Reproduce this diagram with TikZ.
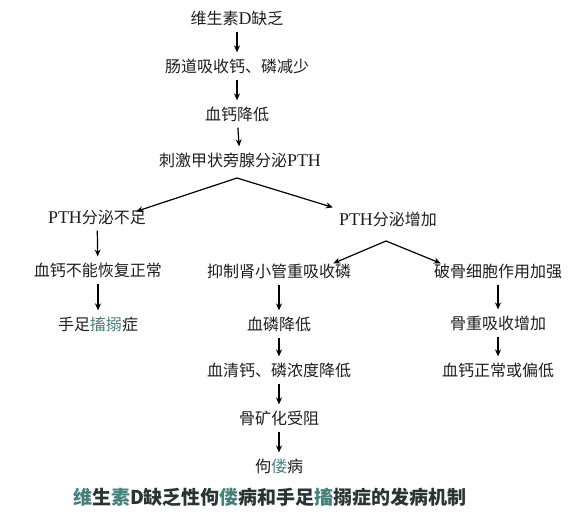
\documentclass[tikz,border=0pt]{standalone}
\usepackage{fontspec}
\setmainfont{Noto Sans CJK SC}
\newfontfamily\lat[Scale=1.12]{Liberation Serif}
\usetikzlibrary{arrows.meta}
\definecolor{txt}{HTML}{1E1E1E}
\definecolor{tealc}{HTML}{46807C}
\definecolor{capc}{HTML}{2A3433}
\tikzset{
  lbl/.style={font=\fontsize{16}{19}\selectfont, text=txt, inner sep=2pt, anchor=center},
  arr/.style={draw=black, line width=1.2pt, -{Stealth[length=7pt,width=6pt]}, shorten <=4pt, shorten >=4pt},
  brr/.style={draw=black, line width=1.2pt, -{Stealth[length=7pt,width=6pt]}}
}
\begin{document}
\begin{tikzpicture}[x=1pt,y=-1pt]
\useasboundingbox (0,0) rectangle (576,520);
\node[lbl] (a) at (237,18) {维生素{\lat D}缺乏};
\node[lbl] (b) at (237,66) {肠道吸收钙、磷减少};
\node[lbl] (c) at (237,114) {血钙降低};
\node[lbl] (d) at (240,160) {刺激甲状旁腺分泌{\lat PTH}};
\node[lbl] (l1) at (97,217) {{\lat PTH}分泌不足};
\node[lbl] (r1) at (388,219) {{\lat PTH}分泌增加};
\node[lbl] (l2) at (98,270) {血钙不能恢复正常};
\node[lbl] (m2) at (279,271) {抑制肾小管重吸收磷};
\node[lbl] (r2) at (498,271) {破骨细胞作用加强};
\node[lbl] (l3) at (98,324) {手足{\color{tealc}搐搦}症};
\node[lbl] (m3) at (279,324) {血磷降低};
\node[lbl] (r3) at (498,323) {骨重吸收增加};
\node[lbl] (m4) at (279,370) {血清钙、磷浓度降低};
\node[lbl] (r4) at (498,370) {血钙正常或偏低};
\node[lbl] (m5) at (279,418) {骨矿化受阻};
\node[lbl] (m6) at (279,466) {佝{\color{tealc}偻}病};
\node[font=\fontsize{19}{22}\selectfont\bfseries, text=capc, inner sep=1pt] (cap) at (270,497)
  {{\color{tealc}维}生{\color{tealc}素}D缺乏性佝{\color{tealc}偻}病和手足{\color{tealc}搐}搦症的发病机制};
\coordinate (ap1) at (237,178);
\coordinate (ap2) at (386,241);
\draw[arr] (a) -- (b);
\draw[arr] (b) -- (c);
\draw[arr] (c) -- (d);
\draw[brr] (ap1) -- ([shift={(-12,4)}]l1.north east);
\draw[brr] (ap1) -- ([shift={(-4,-2)}]r1.north west);
\draw[brr] (ap2) -- ([shift={(-20,2)}]m2.north east);
\draw[brr] (ap2) -- ([shift={(9,2)}]r2.north west);
\draw[arr] (l1) -- (l2);
\draw[arr] (l2) -- (l3);
\draw[arr] (m2) -- (m3);
\draw[arr] (m3) -- (m4);
\draw[arr] (m4) -- (m5);
\draw[arr] (m5) -- (m6);
\draw[arr] (r2) -- (r3);
\draw[arr] (r3) -- (r4);
\end{tikzpicture}
\end{document}
